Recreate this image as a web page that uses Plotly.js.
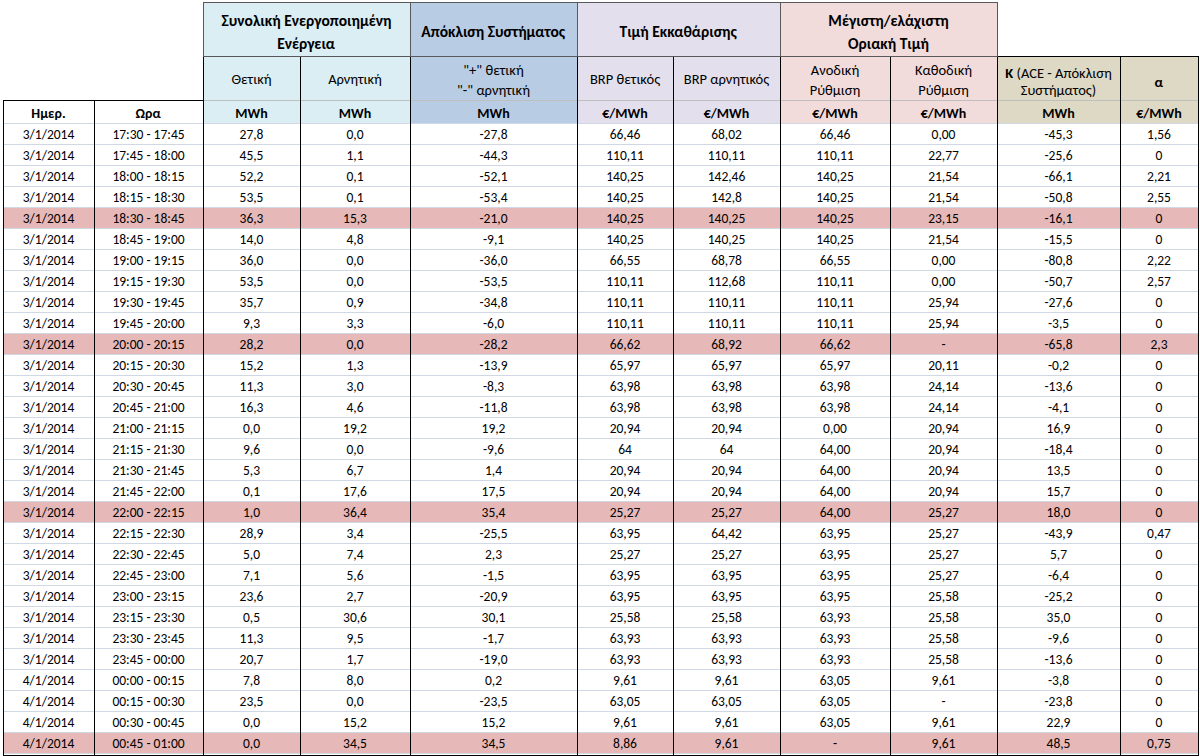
<!DOCTYPE html>
<html><head><meta charset="utf-8">
<script src="https://cdn.plot.ly/plotly-3.0.1.min.js"></script>
<style>html,body{margin:0;padding:0;background:#fff;overflow:hidden}</style>
</head><body><div id="chart" style="width:1200px;height:756px"></div>
<script>
// ---------------- DATA ----------------
const dates = ['3/1/2014','3/1/2014','3/1/2014','3/1/2014','3/1/2014','3/1/2014','3/1/2014','3/1/2014','3/1/2014','3/1/2014',
  '3/1/2014','3/1/2014','3/1/2014','3/1/2014','3/1/2014','3/1/2014','3/1/2014','3/1/2014','3/1/2014','3/1/2014',
  '3/1/2014','3/1/2014','3/1/2014','3/1/2014','3/1/2014','3/1/2014','4/1/2014','4/1/2014','4/1/2014','4/1/2014'];
const times = ['17:30 - 17:45','17:45 - 18:00','18:00 - 18:15','18:15 - 18:30','18:30 - 18:45','18:45 - 19:00',
  '19:00 - 19:15','19:15 - 19:30','19:30 - 19:45','19:45 - 20:00','20:00 - 20:15','20:15 - 20:30','20:30 - 20:45',
  '20:45 - 21:00','21:00 - 21:15','21:15 - 21:30','21:30 - 21:45','21:45 - 22:00','22:00 - 22:15','22:15 - 22:30',
  '22:30 - 22:45','22:45 - 23:00','23:00 - 23:15','23:15 - 23:30','23:30 - 23:45','23:45 - 00:00','00:00 - 00:15',
  '00:15 - 00:30','00:30 - 00:45','00:45 - 01:00'];
const positiveEnergy = [27.8,45.5,52.2,53.5,36.3,14.0,36.0,53.5,35.7,9.3,28.2,15.2,11.3,16.3,0.0,9.6,5.3,0.1,1.0,28.9,5.0,7.1,23.6,0.5,11.3,20.7,7.8,23.5,0.0,0.0];
const negativeEnergy = [0.0,1.1,0.1,0.1,15.3,4.8,0.0,0.0,0.9,3.3,0.0,1.3,3.0,4.6,19.2,0.0,6.7,17.6,36.4,3.4,7.4,5.6,2.7,30.6,9.5,1.7,8.0,0.0,15.2,34.5];
const systemDeviation = [-27.8,-44.3,-52.1,-53.4,-21.0,-9.1,-36.0,-53.5,-34.8,-6.0,-28.2,-13.9,-8.3,-11.8,19.2,-9.6,1.4,17.5,35.4,-25.5,2.3,-1.5,-20.9,30.1,-1.7,-19.0,0.2,-23.5,15.2,34.5];
const brpPositive = [66.46,110.11,140.25,140.25,140.25,140.25,66.55,110.11,110.11,110.11,66.62,65.97,63.98,63.98,20.94,64,20.94,20.94,25.27,63.95,25.27,63.95,63.95,25.58,63.93,63.93,9.61,63.05,9.61,8.86];
const brpNegative = [68.02,110.11,142.46,142.8,140.25,140.25,68.78,112.68,110.11,110.11,68.92,65.97,63.98,63.98,20.94,64,20.94,20.94,25.27,64.42,25.27,63.95,63.95,25.58,63.93,63.93,9.61,63.05,9.61,9.61];
const upRegulation = [66.46,110.11,140.25,140.25,140.25,140.25,66.55,110.11,110.11,110.11,66.62,65.97,63.98,63.98,0.00,64.00,64.00,64.00,64.00,63.95,63.95,63.95,63.95,63.93,63.93,63.93,63.05,63.05,63.05,null];
const downRegulation = [0.00,22.77,21.54,21.54,23.15,21.54,0.00,0.00,25.94,25.94,null,20.11,24.14,24.14,20.94,20.94,20.94,20.94,25.27,25.27,25.27,25.27,25.58,25.58,25.58,25.58,9.61,null,9.61,9.61];
const kValues = [-45.3,-25.6,-66.1,-50.8,-16.1,-15.5,-80.8,-50.7,-27.6,-3.5,-65.8,-0.2,-13.6,-4.1,16.9,-18.4,13.5,15.7,18.0,-43.9,5.7,-6.4,-25.2,35.0,-9.6,-13.6,-3.8,-23.8,22.9,48.5];
const alphaValues = [1.56,0,2.21,2.55,0,0,2.22,2.57,0,0,2.3,0,0,0,0,0,0,0,0,0.47,0,0,0,0,0,0,0,0,0,0.75];
const highlightRows = [4,10,18,29];

const groupLine1 = ['Συνολική Ενεργοποιημένη','','','Μέγιστη/ελάχιστη'];
const groupMid   = ['','Απόκλιση Συστήματος','Τιμή Εκκαθάρισης',''];
const groupLine2 = ['Ενέργεια','','','Οριακή Τιμή'];
const subSingle = ['Θετική','Αρνητική','','BRP θετικός','BRP αρνητικός','','','','<b>α</b>'];
const subLine1  = ['','','"+" θετική','','','Ανοδική','Καθοδική','<b>K</b> (ACE - Απόκλιση',''];
const subLine2  = ['','','"-" αρνητική','','','Ρύθμιση','Ρύθμιση','Συστήματος)',''];
const unitLabels = ['Ημερ.','Ωρα','MWh','MWh','MWh','€/MWh','€/MWh','€/MWh','€/MWh','MWh','€/MWh'];

// ---------------- LAYOUT CONSTANTS ----------------
const W = 1200, H = 756, EPS = 0.02;
const colEdges = [3, 94, 203, 300, 410, 577, 673, 780, 890, 997, 1120, 1198];
const colW = colEdges.slice(1).map((e, i) => e - colEdges[i]);
const groupCols = [[2,4],[4,5],[5,7],[7,9]];
const Y1 = 3, Y2 = 57, YU = 101, ROW_H = 21, UNIT_H = 23;
const FONT = 'Carlito, Calibri, Lato, "Open Sans", sans-serif';
const NONE = 'rgba(0,0,0,0)';
const C_BLUE = '#DAEEF3', C_DEV = '#B8CCE4', C_PRICE = '#E4DFEC', C_MAX = '#F2DCDB', C_K = '#DDD9C4', C_HL = '#E6B8B7';
const colColors = ['#FFFFFF','#FFFFFF',C_BLUE,C_BLUE,C_DEV,C_PRICE,C_PRICE,C_MAX,C_MAX,C_K,C_K];
const groupColors = [C_BLUE, C_DEV, C_PRICE, C_MAX];
const GRID = '#D0D7E5';
const OFF = fs => 9.5 + 0.4 * fs;   // distance from cell top to text centre in a plotly table
const FS_DATA = 13.5, FS_SUB = 14.5, FS_UNIT = 14, FS_GROUP = 15.5;

function dom(x0, x1, y0, y1) {
  return {x: [x0 / W, Math.min(1, (x1 + EPS) / W)],
          y: [Math.max(0, 1 - (y1 + EPS) / H), Math.min(1, 1 - (y0 - EPS) / H)]};
}
const nb = s => s.replace(/ (?![^<]*>)/g, '\u00A0');
const dec = (v, d) => v === null ? '-' : v.toFixed(d).replace('.', ',');
const gen = v => v === null ? '-' : String(v).replace('.', ',');

function headerTable(x0, x1, y0, y1, widths, values, height, fill, lineColor, lineWidth, font) {
  return {type: 'table', domain: dom(x0, x1, y0, y1), columnwidth: widths,
    header: {values: values, height: height, fill: {color: fill},
             line: {color: lineColor, width: lineWidth}, align: 'center', font: font},
    cells: {values: []}};
}
function textRow(c0, c1, texts, cy, fs) {
  const top = cy - OFF(fs);
  return headerTable(colEdges[c0], colEdges[c1], top, top + 2 * fs + 12, colW.slice(c0, c1),
    texts.map(nb), 2 * fs + 4, NONE, NONE, 0, {family: FONT, size: fs, color: '#000'});
}
function groupTextRow(texts, cy, fs) {
  const widths = groupCols.map(g => colEdges[g[1]] - colEdges[g[0]]);
  const top = cy - OFF(fs);
  return headerTable(colEdges[2], colEdges[9], top, top + 2 * fs + 12, widths,
    texts.map(t => t ? '<b>' + nb(t) + '</b>' : ''), 2 * fs + 4, NONE, NONE, 0, {family: FONT, size: fs, color: '#000'});
}
function frame(c0, c1, y0, y1) {
  return headerTable(colEdges[c0], colEdges[c1], y0, y1, colW.slice(c0, c1),
    colW.slice(c0, c1).map(() => ''), y1 - y0, NONE, '#000000', 1, {size: 1});
}

// ---------------- TRACES ----------------
const cellFill = colColors.map(() => dates.map((_, i) => highlightRows.includes(i) ? C_HL : '#FFFFFF'));
const cellTexts = [
  dates.map(nb), times.map(nb),
  positiveEnergy.map(v => dec(v, 1)), negativeEnergy.map(v => dec(v, 1)), systemDeviation.map(v => dec(v, 1)),
  brpPositive.map(gen), brpNegative.map(gen),
  upRegulation.map(v => dec(v, 2)), downRegulation.map(v => dec(v, 2)),
  kValues.map(v => dec(v, 1)), alphaValues.map(gen)
];

const mainFill = {type: 'table', domain: dom(colEdges[0], colEdges[11], YU, H), columnwidth: colW,
  header: {values: colW.map(() => ''), height: UNIT_H, fill: {color: colColors}, line: {color: GRID, width: 1}},
  cells: {values: colW.map(() => dates.map(() => '')), height: ROW_H, fill: {color: cellFill}, line: {color: GRID, width: 1}}};

const shift = ROW_H / 2 - OFF(FS_DATA) + 1.5;
const mainText = {type: 'table', domain: dom(colEdges[0], colEdges[11], YU + shift, H), columnwidth: colW,
  header: {values: colW.map(() => ''), height: UNIT_H, fill: {color: NONE}, line: {color: NONE, width: 0}},
  cells: {values: cellTexts, height: ROW_H, fill: {color: NONE}, line: {color: NONE, width: 0},
          align: 'center', font: {family: FONT, size: FS_DATA, color: '#000'}}};

const subFill = headerTable(colEdges[2], colEdges[11], Y2, YU, colW.slice(2), colW.slice(2).map(() => ''),
  YU - Y2, colColors.slice(2), '#BFBFBF', 1, {size: 1});
const groupFill = headerTable(colEdges[2], colEdges[9], Y1, Y2, groupCols.map(g => colEdges[g[1]] - colEdges[g[0]]),
  groupCols.map(() => ''), Y2 - Y1, groupColors, '#595959', 1, {size: 1});

const traces = [
  mainFill, subFill,
  frame(0, 2, YU, H), frame(2, 9, 30, H), frame(9, 11, Y2, H),
  groupFill,
  mainText,
  textRow(0, 11, unitLabels.map(u => '<b>' + u + '</b>'), 112.5, FS_UNIT),
  textRow(2, 11, subSingle, 80.5, FS_SUB), textRow(2, 11, subLine1, 71, FS_SUB), textRow(2, 11, subLine2, 91.5, FS_SUB),
  groupTextRow(groupLine1, 18.5, FS_GROUP), groupTextRow(groupMid, 30, FS_GROUP), groupTextRow(groupLine2, 41.5, FS_GROUP)
];

Plotly.newPlot('chart', traces, {width: W, height: H, margin: {l: 0, r: 0, t: 0, b: 0},
  paper_bgcolor: '#FFFFFF', showlegend: false}, {staticPlot: true, displayModeBar: false});
</script></body></html>
